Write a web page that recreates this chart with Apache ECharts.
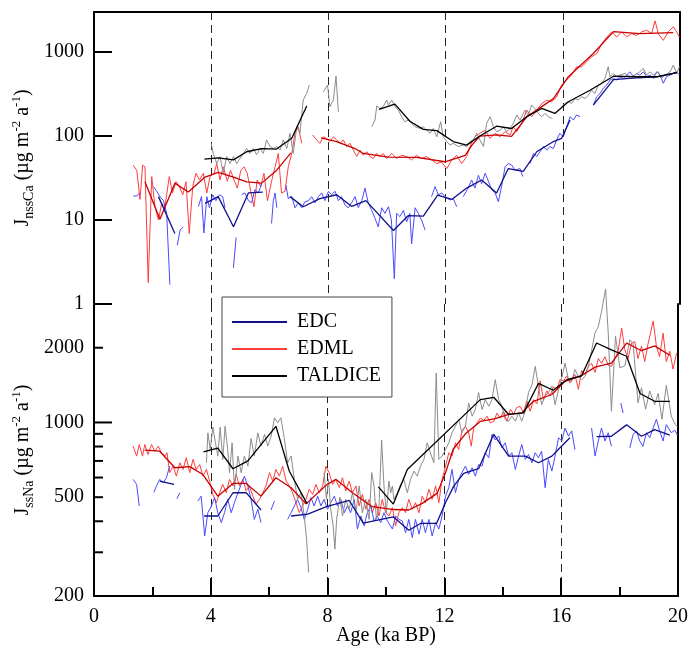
<!DOCTYPE html>
<html>
<head>
<meta charset="utf-8">
<title>nssCa and ssNa fluxes</title>
<script src="https://cdn.jsdelivr.net/npm/echarts@6/dist/echarts.min.js"></script>
<style>
  html, body { margin: 0; padding: 0; background: #fff; }
  #chart { width: 691px; height: 654px; }
</style>
</head>
<body>
<div id="chart"></div>
<script>
// tick labels
var ageTicks = [0, 4, 8, 12, 16, 20];
var caTicks = [1, 10, 100, 1000];
var naTicks = [200, 500, 1000, 2000];
var naLongTicks = [1000];
var naShortTicks = [300, 400, 500, 600, 700, 800, 900, 2000];

// [age ka BP, flux]; null = gap in record
// ---- nssCa panel ----
var caEdmlRaw = [[1.34,45],[1.46,39],[1.57,17.6],[1.66,45],[1.74,43],[1.85,1.8],[1.97,33],[2.08,14.4],[2.20,10],[2.31,15.8],[2.42,14.4],[2.57,33],[2.68,21],[2.80,28.6],[2.91,25],[3.03,20],[3.14,28.6],[3.25,6.9],[3.37,25],[3.48,36],[3.60,30],[3.73,36],[3.85,21],[3.96,33],[4.10,36],[4.19,47],[4.30,30],[4.41,43],[4.55,29],[4.66,39],[4.78,30],[4.89,24],[5.01,39],[5.12,43],[5.23,36],[5.35,22],[5.46,14.4],[5.57,30],[5.69,25],[5.80,36],[5.92,17],[6.06,29],[6.18,43],[6.29,62],[6.40,21],[6.52,22],[6.63,43],[6.75,62],[6.86,108],[6.97,129],[7.09,82],[7.3,null],
  [7.46,103],[7.60,90],[7.71,82],[7.83,98],[7.94,94],[8.05,86],[8.17,98],[8.28,90],[8.40,82],[8.51,90],[8.62,75],[8.74,82],[8.85,68],[8.97,57],[9.08,68],[9.19,59],[9.31,65],[9.42,57],[9.53,54],[9.65,62],[9.76,57],[9.87,62],[9.99,54],[10.16,62],[10.33,54],[10.50,59],[10.67,57],[10.84,52],[11.01,59],[11.18,54],[11.35,57],[11.52,52],[11.70,47],[11.86,49],[12.04,41],[12.21,52],[12.38,59],[12.55,47],[12.72,57],[12.83,75],[13.00,98],[13.17,108],[13.35,117],[13.52,94],[13.69,108],[13.86,98],[14.03,113],[14.20,103],[14.31,129],[14.43,113],[14.60,141],[14.77,203],[14.94,170],[15.11,203],[15.28,243],[15.45,267],[15.62,255],[15.79,292],[15.96,406],[16.13,464],[16.30,530],[16.47,666],[16.64,666],[16.81,764],[16.98,876],[17.16,960],[17.33,1260],[17.50,1510],[17.67,1740],[17.84,1510],[18.01,1740],[18.18,1510],[18.35,1660],[18.52,1580],[18.69,1740],[18.86,1820],[19.03,1660],[19.15,2350],[19.26,1660],[19.43,1380],[19.60,1740],[19.77,2000],[19.89,1740],[19.98,1510]];
var caEdmlSmooth = [[1.74,28.6],[2.25,10.2],[2.76,27.5],[3.22,21.6],[3.79,32.5],[4.24,37],[4.76,32.5],[5.21,28.4],[5.72,27.5],[6.23,39],[6.72,63],[7.2,null],[7.75,95],[8.28,86],[8.91,71],[9.19,62],[10.05,56],[11.01,55.6],[11.98,49.4],[12.67,59],[12.9,78],[13.17,100],[13.74,103],[14.25,99],[14.77,169],[15.68,279],[16.19,509],[17.04,962],[17.73,1750],[18.63,1660],[19.77,1700]];
var caEdcRaw = [[1.34,19.3],[1.46,19.3],[1.55,21],[1.8,null],[2.03,25],[2.14,22],[2.25,19],[2.37,17],[2.48,12],[2.59,1.7],[2.7,null],[2.84,5],[2.94,7.6],[3.05,8.3],[3.3,null],[3.56,14.4],[3.67,19],[3.75,7],[3.85,19],[3.94,14],[4.05,20],[4.16,17],[4.28,20],[4.39,19],[4.47,14],[4.6,null],[4.76,2.7],[4.85,6.2],[4.95,null],[5.04,20],[5.15,21],[5.27,17],[5.38,16],[5.49,23],[5.61,21],[5.72,27],[5.9,null],[6.06,9.1],[6.12,17],[6.18,21],[6.24,14],[6.4,null],
  [6.55,26],[6.63,18],[6.75,19],[6.86,14],[6.97,16],[7.09,14],[7.2,16.5],[7.32,17],[7.43,19],[7.54,16],[7.66,19],[7.77,21],[7.88,17],[8.0,22],[8.11,20],[8.23,22],[8.34,17],[8.45,19],[8.57,15],[8.68,14],[8.79,16],[8.91,19],[9.02,14],[9.14,17],[9.25,24],[9.36,16],[9.48,13],[9.59,10.5],[9.7,8.3],[9.82,14],[9.93,12],[10.05,14.4],[10.15,10],[10.25,2.0],[10.33,12],[10.44,11],[10.56,13],[10.67,9.5],[10.78,12],[10.84,5.2],[10.96,14],[11.07,12],[11.18,10],[11.3,7.6],[11.4,null],
  [11.52,19],[11.64,25],[11.75,20],[11.87,21],[11.98,19],[12.15,17.3],[12.26,18],[12.38,14.4],[12.5,null],[12.6,19],[12.74,23],[12.89,30],[13.0,24],[13.12,34],[13.23,27],[13.35,36],[13.46,29],[13.57,23],[13.69,21],[13.8,16.5],[13.91,25],[14.03,43],[14.14,47],[14.26,45],[14.37,39],[14.54,41],[14.63,33],[14.75,null],
  [14.88,47],[15.0,62],[15.11,57],[15.22,65],[15.34,75],[15.45,68],[15.56,75],[15.68,71],[15.79,90],[15.9,108],[16.02,98],[16.13,129],[16.25,170],[16.36,155],[16.47,178],[16.59,170],[16.8,null],
  [17.04,234],[17.16,294],[17.27,321],[17.38,370],[17.5,406],[17.61,464],[17.73,485],[17.84,464],[17.95,508],[18.07,485],[18.18,532],[18.29,582],[18.41,508],[18.52,556],[18.63,532],[18.75,582],[18.86,508],[18.98,532],[19.09,485],[19.2,582],[19.32,532],[19.43,425],[19.54,508],[19.66,532],[19.77,556],[19.89,582],[19.98,532]];
var caEdcSmooth = [[2.2,19],[2.76,6.9],[3.2,null],[3.79,15.8],[4.24,19],[4.76,8.3],[5.27,21],[5.76,21.5],[6.2,null],[6.69,19],[7.14,14.4],[7.71,18],[8.28,20],[8.8,14.5],[9.28,17],[10.22,7.5],[10.73,11.3],[11.24,11.1],[11.73,19.8],[12.21,17.6],[12.72,24],[13.23,30],[13.74,21],[14.14,41],[14.65,38],[15.11,65],[15.68,86],[15.96,94],[16.25,155],[16.6,null],[17.04,234],[17.73,470],[18.4,490],[19.2,508],[19.89,570]];
var caTalRaw = [[4.0,82],[4.07,62],[4.19,47],[4.3,57],[4.41,36],[4.53,57],[4.64,47],[4.76,57],[4.87,47],[4.98,54],[5.1,62],[5.21,71],[5.32,62],[5.44,71],[5.55,60],[5.67,71],[5.78,62],[5.89,90],[6.01,75],[6.12,71],[6.23,75],[6.35,68],[6.46,90],[6.58,71],[6.69,108],[6.8,62],[6.92,129],[7.03,108],[7.14,268],[7.26,322],[7.35,405],[7.6,null],
  [7.83,338],[7.97,405],[8.05,224],[8.17,268],[8.26,516],[8.34,194],[9.0,null],
  [9.48,129],[9.59,155],[9.65,228],[9.76,213],[9.87,224],[9.99,268],[10.05,234],[10.16,268],[10.27,224],[10.39,204],[10.5,170],[10.61,148],[10.73,155],[10.84,141],[10.96,129],[11.13,123],[11.24,129],[11.35,117],[11.47,108],[11.58,123],[11.7,98],[11.83,148],[11.92,98],[12.04,86],[12.15,78],[12.26,82],[12.43,75],[12.6,78],[12.72,75],[12.83,86],[12.95,90],[13.06,108],[13.17,90],[13.29,75],[13.4,141],[13.52,170],[13.63,129],[13.74,113],[13.86,117],[13.97,129],[14.08,113],[14.2,123],[14.31,141],[14.43,178],[14.54,155],[14.71,204],[14.82,178],[14.94,234],[15.05,213],[15.16,186],[15.28,170],[15.39,186],[15.51,170],[15.62,163],[15.8,null],
  [15.96,224],[16.08,245],[16.19,256],[16.3,245],[16.42,280],[16.53,268],[16.64,294],[16.76,280],[16.87,307],[16.98,351],[17.1,321],[17.21,405],[17.33,425],[17.44,485],[17.55,669],[17.61,508],[17.73,556],[17.84,508],[17.95,532],[18.12,556],[18.29,508],[18.46,532],[18.63,582],[18.75,640],[18.86,532],[18.98,582],[19.09,532],[19.26,582],[19.37,485],[19.49,532],[19.66,582],[19.77,700],[19.89,556],[19.98,669]];
var caTalSmooth = [[3.77,53],[4.24,55],[4.76,52],[5.21,65],[5.72,71],[6.23,70],[6.75,94],[7.26,228],[8.0,null],[9.73,208],[10.27,240],[10.78,150],[11.24,120],[11.7,116],[12.26,86],[12.72,78],[13.17,100],[13.74,131],[14.25,123],[14.77,170],[15.28,213],[15.73,186],[16.19,256],[16.93,351],[17.73,516],[18.41,508],[19.2,508],[19.89,570]];

// ---- ssNa panel ----
var naEdmlRaw = [[1.34,803],[1.46,732],[1.55,815],[1.66,732],[1.74,815],[1.85,743],[1.97,815],[2.08,766],[2.2,803],[2.31,755],[2.42,732],[2.5,755],[2.59,628],[2.71,667],[2.82,608],[2.94,688],[3.05,647],[3.16,721],[3.28,628],[3.39,710],[3.5,647],[3.62,677],[3.73,608],[3.85,647],[3.96,581],[4.07,513],[4.19,475],[4.3,521],[4.41,563],[4.53,521],[4.64,590],[4.76,555],[4.87,617],[4.98,555],[5.1,590],[5.21,530],[5.32,555],[5.44,505],[5.55,468],[5.67,490],[5.78,521],[5.89,555],[6.01,628],[6.12,581],[6.23,647],[6.35,608],[6.46,667],[6.58,581],[6.69,555],[6.8,521],[6.92,475],[7.03,433],[7.14,461],[7.26,490],[7.37,538],[7.49,513],[7.6,563],[7.71,521],[7.83,555],[7.94,667],[8.05,628],[8.17,563],[8.28,590],[8.4,547],[8.51,599],[8.62,530],[8.74,581],[8.85,521],[8.97,555],[9.08,461],[9.19,513],[9.31,447],[9.42,490],[9.53,433],[9.65,475],[9.76,420],[9.87,490],[9.99,433],[10.1,420],[10.22,454],[10.33,383],[10.44,433],[10.56,454],[10.67,433],[10.78,490],[10.9,447],[11.01,475],[11.13,433],[11.24,505],[11.35,475],[11.47,538],[11.58,490],[11.7,555],[11.81,475],[11.92,590],[12.04,667],[12.15,755],[12.26,732],[12.38,828],[12.49,778],[12.6,927],[12.72,966],[12.83,908],[12.92,803],[13.0,947],[13.12,996],[13.23,1040],[13.35,1020],[13.46,1060],[13.57,996],[13.69,1010],[13.8,1090],[13.91,1040],[14.03,1110],[14.14,1010],[14.26,1130],[14.37,1080],[14.48,1150],[14.6,1160],[14.71,1090],[14.82,1220],[14.94,1110],[15.05,1236],[15.17,1190],[15.28,1470],[15.39,1236],[15.51,1340],[15.62,1280],[15.73,1390],[15.85,1360],[15.96,1490],[16.08,1470],[16.19,1540],[16.3,1443],[16.47,1560],[16.59,1360],[16.7,1620],[16.82,1560],[16.93,1683],[17.04,1730],[17.16,1590],[17.27,1810],[17.38,1730],[17.5,1840],[17.61,1700],[17.72,1683],[17.84,1810],[17.95,1935],[18.07,2400],[18.18,1964],[18.29,1810],[18.41,2090],[18.52,2115],[18.63,1810],[18.75,2030],[18.86,1760],[18.98,2090],[19.15,2560],[19.26,2030],[19.37,1840],[19.49,2290],[19.6,1760],[19.72,1935],[19.83,1640],[19.95,1900]];
var naEdmlSmooth = [[1.74,773],[2.25,766],[2.77,657],[3.28,664],[3.73,617],[4.24,505],[4.76,568],[5.21,568],[5.72,505],[6.23,599],[6.75,546],[7.26,470],[7.96,560],[8.28,590],[8.85,521],[9.53,458],[10.27,446],[10.78,444],[11.24,472],[11.75,518],[12.04,628],[12.3,780],[12.72,900],[13.23,1010],[13.74,1036],[14.2,1077],[14.65,1093],[15.05,1217],[15.68,1296],[16.13,1465],[16.7,1545],[17.16,1670],[17.72,1735],[18.24,2089],[18.75,1945],[19.2,2035],[19.72,1865]];
var naEdcRaw = [[1.34,590],[1.46,563],[1.55,461],[1.8,null],[2.05,523],[2.14,555],[2.25,590],[2.37,572],[2.48,599],[2.59,667],[2.7,null],[2.84,493],[2.94,521],[3.2,null],
  [3.56,482],[3.67,505],[3.79,349],[3.9,433],[4.02,461],[4.13,498],[4.24,433],[4.36,395],[4.47,433],[4.58,490],[4.7,433],[4.81,475],[4.93,521],[5.04,563],[5.15,608],[5.27,555],[5.38,490],[5.49,407],[5.61,447],[5.72,395],[5.9,null],[6.06,444],[6.18,482],[6.4,null],
  [6.63,407],[6.75,433],[6.86,461],[6.97,490],[7.09,454],[7.2,407],[7.32,447],[7.43,498],[7.54,461],[7.66,505],[7.77,461],[7.88,490],[8.0,447],[8.11,475],[8.23,505],[8.34,461],[8.45,490],[8.57,433],[8.68,461],[8.79,433],[8.91,490],[9.02,372],[9.14,420],[9.25,383],[9.36,433],[9.48,461],[9.59,401],[9.7,420],[9.82,395],[9.93,433],[10.05,401],[10.22,372],[10.33,420],[10.44,407],[10.56,401],[10.67,360],[10.78,407],[10.9,344],[11.01,407],[11.13,355],[11.24,407],[11.35,360],[11.47,407],[11.58,349],[11.7,395],[11.81,372],[11.92,420],[12.04,505],[12.15,546],[12.26,647],[12.38,521],[12.49,590],[12.6,628],[12.72,667],[12.83,618],[12.95,657],[13.06,608],[13.17,677],[13.29,667],[13.4,755],[13.52,721],[13.63,896],[13.74,850],[13.86,883],[13.97,790],[14.08,828],[14.2,732],[14.31,755],[14.43,647],[14.54,732],[14.65,815],[14.77,710],[14.88,743],[15.0,688],[15.11,755],[15.22,721],[15.33,766],[15.45,546],[15.56,710],[15.68,637],[15.79,732],[15.91,868],[16.02,842],[16.13,950],[16.25,880],[16.36,925],[16.47,778],[16.7,null],
  [17.04,950],[17.16,732],[17.27,842],[17.38,950],[17.5,842],[17.61,909],[17.72,802],[17.85,null],[18.04,1198],[18.12,1092],[18.2,null],
  [18.35,790],[18.46,893],[18.58,925],[18.69,842],[18.8,802],[18.92,909],[19.03,868],[19.15,950],[19.26,1030],[19.37,925],[19.49,842],[19.6,980],[19.77,909],[19.89,931],[19.98,890]];
var naEdcSmooth = [[2.25,581],[2.74,563],[3.2,null],[3.77,420],[4.24,420],[4.76,521],[5.21,522],[5.72,444],[6.2,null],[6.75,420],[7.32,427],[7.96,458],[8.74,485],[9.22,393],[10.25,417],[10.78,368],[11.18,392],[11.73,392],[12.04,476],[12.32,554],[12.66,624],[13.17,651],[13.69,896],[14.2,732],[14.77,732],[15.22,688],[15.68,732],[15.9,778],[16.3,868],[16.8,null],[17.21,877],[17.72,880],[18.24,978],[18.75,880],[19.2,935],[19.72,890]];
var naTalRaw = [[3.85,688],[3.9,908],[3.98,778],[4.07,957],[4.16,828],[4.24,732],[4.32,957],[4.41,710],[4.49,966],[4.58,778],[4.64,628],[4.73,828],[4.81,538],[4.93,732],[5.04,628],[5.15,732],[5.27,667],[5.38,861],[5.49,732],[5.61,908],[5.72,803],[5.84,896],[5.95,803],[6.07,883],[6.18,1044],[6.29,997],[6.4,1044],[6.52,861],[6.63,688],[6.75,732],[6.86,590],[6.97,490],[7.09,521],[7.2,420],[7.28,339],[7.35,249],[7.6,null],
  [7.88,628],[7.96,490],[8.03,590],[8.11,447],[8.19,383],[8.25,309],[8.31,407],[8.42,500],[8.51,420],[8.62,490],[8.74,447],[8.85,521],[8.97,433],[9.08,555],[9.19,433],[9.31,490],[9.42,407],[9.51,628],[9.59,555],[9.67,407],[9.76,461],[9.85,850],[9.93,555],[10.01,433],[10.1,581],[10.16,521],[10.22,555],[10.27,490],[10.39,521],[10.5,563],[10.61,590],[10.73,521],[10.84,590],[10.96,637],[11.07,608],[11.18,667],[11.3,710],[11.41,828],[11.52,755],[11.64,688],[11.72,1582],[11.81,710],[11.92,732],[12.04,778],[12.15,828],[12.26,908],[12.38,966],[12.49,1028],[12.6,908],[12.72,966],[12.83,1198],[12.95,1060],[13.06,1127],[13.17,1320],[13.29,1127],[13.4,1236],[13.52,1162],[13.63,1236],[13.74,1486],[13.86,1236],[13.97,1162],[14.08,1028],[14.2,1012],[14.31,1060],[14.43,1012],[14.54,1093],[14.65,1012],[14.77,1110],[14.88,1320],[15.0,1420],[15.11,1683],[15.22,1399],[15.33,1180],[15.45,1276],[15.56,1320],[15.68,1399],[15.79,1180],[15.91,1356],[16.02,1510],[16.13,1735],[16.25,1486],[16.36,1465],[16.47,1633],[16.59,1534],[16.7,1486],[16.82,1534],[16.93,1680],[17.04,1950],[17.16,2300],[17.27,2430],[17.38,2790],[17.52,3450],[17.61,2300],[17.72,1110],[17.86,2230],[18.01,1660],[18.18,1690],[18.35,2150],[18.46,2090],[18.63,1200],[18.75,1380],[18.89,1130],[19.03,1340],[19.2,1180],[19.32,1310],[19.45,1030],[19.6,1410],[19.77,1060],[19.91,980],[19.98,960]];
var naTalSmooth = [[3.75,761],[4.24,789],[4.76,651],[5.27,700],[6.23,965],[6.69,636],[7.3,470],[8.0,null],[9.74,550],[10.25,469],[10.73,647],[13.23,1236],[13.69,1263],[14.2,1077],[14.71,1093],[15.22,1436],[15.73,1348],[16.19,1486],[16.7,1541],[17.21,2089],[17.72,1960],[18.24,1848],[18.7,1308],[19.2,1217],[19.72,1217]];

var FONT = '"Liberation Serif", "Times New Roman", serif';
var BLACK = '#000';
var colEdcRaw = '#4a4aff', colEdcSm = '#101088';
var colEdmlRaw = '#ff3d3d', colEdmlSm = '#c80000';
var colTalRaw = '#8c8c8c', colTalSm = '#000000';

var myChart = echarts.init(document.getElementById('chart'));

function line(name, data, color, width, grid, extra) {
    var s = {
        name: name,
        type: 'line',
        xAxisIndex: grid,
        yAxisIndex: grid === 0 ? 0 : 2,
        data: data,
        color: color,
        symbol: 'none',
        showSymbol: false,
        connectNulls: false,
        lineStyle: { color: color, width: width },
        emphasis: { disabled: true },
        silent: true
    };
    if (extra) { for (var k in extra) s[k] = extra[k]; }
    return s;
}

// inward ticks on the ssNa log axis, placed through the axis scale
function naTickSeries(name, values, len) {
    return {
        name: name,
        type: 'custom',
        coordinateSystem: 'cartesian2d',
        xAxisIndex: 1,
        yAxisIndex: 2,
        silent: true,
        clip: false,
        z: 5,
        data: values.map(function (v) { return [0, v]; }),
        renderItem: function (params, api) {
            var p = api.coord([api.value(0), api.value(1)]);
            return {
                type: 'line',
                shape: { x1: p[0], y1: p[1], x2: p[0] + len, y2: p[1] },
                style: { stroke: BLACK, lineWidth: 2 }
            };
        }
    };
}

var rich = {
    n: { fontFamily: FONT, fontSize: 20, lineHeight: 26, color: BLACK },
    sub: { fontFamily: FONT, fontSize: 14, lineHeight: 16, verticalAlign: 'bottom', color: BLACK },
    sup: { fontFamily: FONT, fontSize: 13, lineHeight: 13, verticalAlign: 'top', color: BLACK }
};
var frameLine = { show: true, onZero: false, lineStyle: { color: BLACK, width: 2 } };
var dashed = { show: true, lineStyle: { color: '#222', width: 1, type: [8, 5] } };
var lg = function (v) { return Math.log10(v); };

var option = {
    animation: false,
    backgroundColor: '#fff',
    grid: [
        { left: 94, right: 11, top: 12, height: 292 },
        { left: 94, right: 11, top: 304, height: 292 }
    ],
    legend: {
        data: ['EDC', 'EDML', 'TALDICE'],
        orient: 'vertical',
        left: 222, top: 297,
        icon: 'rect', itemWidth: 55, itemHeight: 2, itemGap: 7,
        padding: [15, 11, 11, 10],
        backgroundColor: '#fff', borderColor: '#444', borderWidth: 1,
        formatter: ' {name}',
        selectedMode: false,
        textStyle: { fontFamily: FONT, fontSize: 20, color: BLACK }
    },
    xAxis: [
        {
            gridIndex: 0, type: 'value', position: 'top', min: 0, max: 20, interval: 4,
            axisLine: frameLine, axisTick: { show: false }, axisLabel: { show: false },
            splitLine: dashed
        },
        {
            gridIndex: 1, type: 'value', position: 'bottom', min: 0, max: 20, interval: 4,
            axisLine: frameLine,
            axisTick: { show: true, inside: true, length: 18, lineStyle: { color: BLACK, width: 2 } },
            minorTick: { show: true, splitNumber: 2, length: 9, lineStyle: { color: BLACK, width: 2 } },
            axisLabel: { fontFamily: FONT, fontSize: 20, color: BLACK, margin: 11,
                customValues: ageTicks },
            splitLine: dashed,
            name: 'Age (ka BP)', nameLocation: 'middle', nameGap: 30, nameMoveOverlap: false,
            nameTextStyle: { fontFamily: FONT, fontSize: 20, color: BLACK }
        }
    ],
    yAxis: [
        {   // nssCa, log scale
            gridIndex: 0, type: 'log', logBase: 10, min: 1, max: 3000, position: 'left',
            axisLine: frameLine,
            axisTick: { show: true, inside: true, length: 18, lineStyle: { color: BLACK, width: 2 } },
            axisLabel: {
                fontFamily: FONT, fontSize: 20, color: BLACK, margin: 10,
                formatter: function (v) {
                    var r = Math.round(v);
                    return caTicks.indexOf(r) >= 0 ? String(r) : '';
                }
            },
            splitLine: { show: false },
            name: '{n|J}{sub|nssCa}{n| (\u00b5g m}{sup|-2}{n| a}{sup|-1}{n|)}',
            nameLocation: 'middle', nameRotate: 90, nameGap: 58, nameMoveOverlap: false,
            nameTextStyle: { rich: rich }
        },
        {   // right frame, top
            gridIndex: 0, type: 'value', position: 'right', min: 0, max: 1,
            axisLine: frameLine, axisTick: { show: false }, axisLabel: { show: false },
            splitLine: { show: false }
        },
        {   // ssNa, log scale (data axis)
            gridIndex: 1, type: 'log', logBase: 10, min: 200, max: 3000, position: 'left',
            axisLine: frameLine, axisTick: { show: false }, axisLabel: { show: false },
            splitLine: { show: false }
        },
        {   // ssNa labels, same log10 extent
            gridIndex: 1, type: 'value', min: lg(200), max: lg(3000), position: 'left',
            axisLine: { show: false },
            axisTick: { show: false },
            axisLabel: {
                fontFamily: FONT, fontSize: 20, color: BLACK, margin: 10,
                customValues: naTicks.map(lg),
                formatter: function (v) { return String(Math.round(Math.pow(10, v))); }
            },
            splitLine: { show: false },
            name: '{n|J}{sub|ssNa}{n| (\u00b5g m}{sup|-2}{n| a}{sup|-1}{n|)}',
            nameLocation: 'middle', nameRotate: 90, nameGap: 58, nameMoveOverlap: false,
            nameTextStyle: { rich: rich }
        },
        {   // right frame, bottom
            gridIndex: 1, type: 'value', position: 'right', min: 0, max: 1,
            axisLine: frameLine, axisTick: { show: false }, axisLabel: { show: false },
            splitLine: { show: false }
        }
    ],
    series: [
        line('EDML', caEdmlRaw, colEdmlRaw, 1, 0),
        line('EDC raw Ca', caEdcRaw, colEdcRaw, 1, 0),
        line('TALDICE raw Ca', caTalRaw, colTalRaw, 1, 0),
        line('EDML smooth Ca', caEdmlSmooth, colEdmlSm, 1.3, 0),
        line('EDC', caEdcSmooth, colEdcSm, 1.3, 0),
        line('TALDICE', caTalSmooth, colTalSm, 1.3, 0),
        line('EDML raw Na', naEdmlRaw, colEdmlRaw, 1, 1),
        line('EDC raw Na', naEdcRaw, colEdcRaw, 1, 1),
        line('TALDICE raw Na', naTalRaw, colTalRaw, 1, 1, { clip: false }),
        line('EDML smooth Na', naEdmlSmooth, colEdmlSm, 1.3, 1),
        line('EDC smooth Na', naEdcSmooth, colEdcSm, 1.3, 1),
        line('TALDICE smooth Na', naTalSmooth, colTalSm, 1.3, 1),
        naTickSeries('Na long ticks', naLongTicks, 18),
        naTickSeries('Na short ticks', naShortTicks, 9)
    ]
};

myChart.setOption(option);
window.addEventListener('resize', function () { myChart.resize(); });
</script>
</body>
</html>
